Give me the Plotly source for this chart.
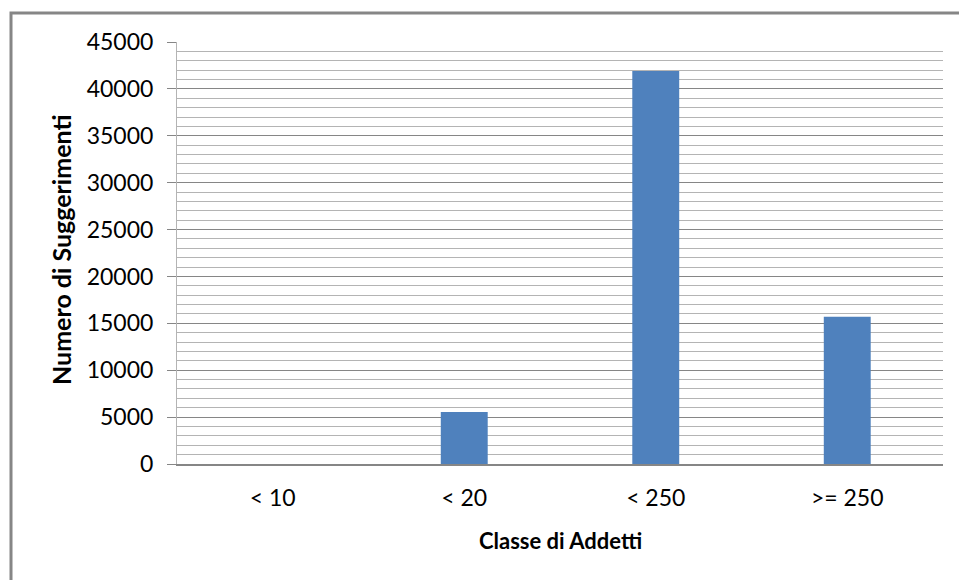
import plotly.graph_objects as go

# Suggestions by employee-size class
categories = ["< 10", "< 20", "< 250", ">= 250"]
suggestions = [0, 5550, 41900, 15700]
y_ticks = [0, 5000, 10000, 15000, 20000, 25000, 30000, 35000, 40000, 45000]

FONT = "Lato, 'Open Sans', sans-serif"
AXIS_GRAY = "#868686"
MINOR_GRAY = "#b4b4b4"

fig = go.Figure(
    go.Bar(
        x=categories,
        y=suggestions,
        marker=dict(color="#4f81bd", line=dict(width=0)),
        width=0.245,
    )
)

fig.update_layout(
    width=959,
    height=580,
    margin=dict(l=177, r=16, t=42, b=116),
    paper_bgcolor="white",
    plot_bgcolor="white",
    showlegend=False,
    font=dict(family=FONT, color="#000000"),
    bargap=0.755,
)

fig.update_xaxes(
    showline=True,
    linecolor=AXIS_GRAY,
    linewidth=2,
    showgrid=False,
    ticks="",
    tickfont=dict(size=23, family=FONT, color="#000000"),
    ticklabelstandoff=12,
)

fig.update_yaxes(
    range=[0, 45000],
    tickvals=y_ticks,
    ticktext=[str(v) for v in y_ticks],
    showline=True,
    linecolor=MINOR_GRAY,
    linewidth=1,
    ticks="outside",
    ticklen=9,
    tickcolor=AXIS_GRAY,
    showgrid=True,
    gridcolor=AXIS_GRAY,
    gridwidth=1,
    zeroline=False,
    minor=dict(dtick=1000, showgrid=True, gridcolor=MINOR_GRAY, gridwidth=1, ticks=""),
    tickfont=dict(size=23, family=FONT, color="#000000"),
    ticklabelstandoff=9,
)

# Axis titles
fig.add_annotation(
    text="<b>Numero di Suggerimenti</b>",
    xref="paper", yref="paper",
    x=(61 - 177) / 766, y=(464 - 250) / 422,
    textangle=-90, showarrow=False,
    font=dict(size=25, family=FONT, color="#000000"),
    xanchor="center", yanchor="middle",
)
fig.add_annotation(
    text="<b>Classe di Addetti</b>",
    xref="paper", yref="paper",
    x=(560 - 177) / 766, y=(464 - 540) / 422,
    showarrow=False,
    font=dict(size=22, family=FONT, color="#000000"),
    xanchor="center", yanchor="middle",
)

# Chart frame
fig.add_shape(
    type="rect",
    xref="paper", yref="paper",
    x0=(11 - 177) / 766, x1=1.2,
    y0=-0.6, y1=(464 - 13) / 422,
    line=dict(color=AXIS_GRAY, width=3),
    layer="below",
)

fig.write_html("out.html")
